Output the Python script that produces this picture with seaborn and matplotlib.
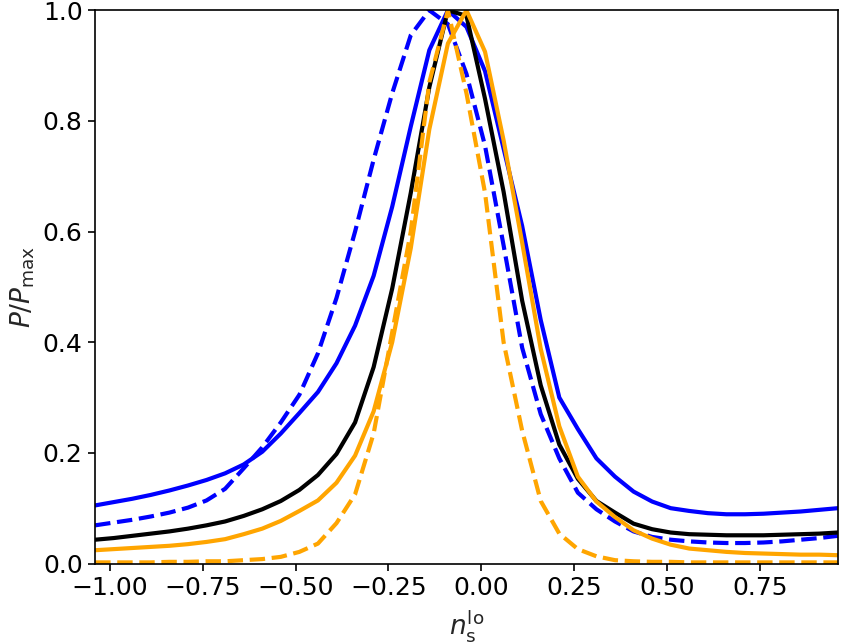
import numpy as np
import matplotlib
matplotlib.use("Agg")
import matplotlib.pyplot as plt
import seaborn as sns

# grid of n_s^lo values (step 0.05)
n_s = [-1.04, -0.99, -0.94, -0.89, -0.84, -0.79, -0.74, -0.69, -0.64, -0.59,
       -0.54, -0.49, -0.44, -0.39, -0.34, -0.29, -0.24, -0.19, -0.14, -0.09,
       -0.04, 0.01, 0.06, 0.11, 0.16, 0.21, 0.26, 0.31, 0.36, 0.41,
       0.46, 0.51, 0.56, 0.61, 0.66, 0.71, 0.76, 0.81, 0.86, 0.91, 0.96]

blue_solid = [0.105, 0.111, 0.117, 0.124, 0.132, 0.141, 0.151, 0.163, 0.179, 0.202,
              0.235, 0.272, 0.310, 0.362, 0.430, 0.520, 0.645, 0.790, 0.928, 1.000,
              0.970, 0.890, 0.750, 0.610, 0.440, 0.300, 0.243, 0.190, 0.157, 0.130,
              0.112, 0.100, 0.095, 0.091, 0.089, 0.089, 0.090, 0.092, 0.094, 0.097, 0.100]

blue_dashed = [0.069, 0.074, 0.079, 0.085, 0.092, 0.101, 0.114, 0.135, 0.172, 0.210,
               0.255, 0.305, 0.380, 0.480, 0.600, 0.730, 0.850, 0.955, 1.000, 0.975,
               0.885, 0.755, 0.575, 0.390, 0.270, 0.190, 0.128, 0.098, 0.076, 0.058,
               0.048, 0.043, 0.040, 0.038, 0.037, 0.037, 0.038, 0.040, 0.043, 0.046, 0.050]

black_solid = [0.043, 0.046, 0.050, 0.054, 0.058, 0.063, 0.069, 0.076, 0.086, 0.098,
               0.113, 0.133, 0.160, 0.198, 0.255, 0.355, 0.497, 0.670, 0.861, 1.000,
               0.990, 0.840, 0.672, 0.475, 0.322, 0.215, 0.153, 0.113, 0.092, 0.072,
               0.062, 0.056, 0.053, 0.052, 0.051, 0.051, 0.051, 0.052, 0.053, 0.054, 0.056]

orange_solid = [0.024, 0.026, 0.028, 0.030, 0.032, 0.035, 0.039, 0.044, 0.053, 0.063,
                0.077, 0.095, 0.114, 0.146, 0.195, 0.275, 0.400, 0.570, 0.785, 0.940,
                1.000, 0.925, 0.765, 0.580, 0.388, 0.248, 0.157, 0.112, 0.084, 0.060,
                0.045, 0.034, 0.027, 0.024, 0.021, 0.019, 0.018, 0.017, 0.016, 0.016, 0.015]

orange_dashed = [0.002, 0.002, 0.002, 0.002, 0.003, 0.003, 0.004, 0.004, 0.006, 0.008,
                 0.012, 0.021, 0.036, 0.073, 0.125, 0.235, 0.418, 0.600, 0.870, 1.000,
                 0.850, 0.670, 0.400, 0.240, 0.113, 0.054, 0.026, 0.013, 0.006, 0.004,
                 0.003, 0.003, 0.002, 0.002, 0.002, 0.002, 0.002, 0.002, 0.002, 0.002, 0.002]

sns.set_style("ticks")
plt.rcParams['font.family'] = ['DejaVu Sans']
plt.rcParams['mathtext.fontset'] = 'dejavusans'

fig = plt.figure(figsize=(8.42, 6.44), dpi=100)
ax = fig.add_axes([0.113, 0.125, 0.882, 0.859])

lw = 3.0
sns.lineplot(x=n_s, y=blue_solid, color="blue", lw=lw, ax=ax)
sns.lineplot(x=n_s, y=blue_dashed, color="blue", lw=lw, linestyle="--", ax=ax)
sns.lineplot(x=n_s, y=black_solid, color="black", lw=lw, ax=ax)
sns.lineplot(x=n_s, y=orange_solid, color="orange", lw=lw, ax=ax)
sns.lineplot(x=n_s, y=orange_dashed, color="orange", lw=lw, linestyle="--", ax=ax)

ax.set_xlim(min(n_s), max(n_s))
ax.set_ylim(0, 1)
ax.set_xticks([-1.0, -0.75, -0.5, -0.25, 0.0, 0.25, 0.5, 0.75])
ax.set_yticks([0.0, 0.2, 0.4, 0.6, 0.8, 1.0])
ax.tick_params(labelsize=18, length=5, width=1.2, pad=4, colors="black")
for s in ax.spines.values():
    s.set_visible(True)
    s.set_color("black")
    s.set_linewidth(1.2)
ax.set_xlabel(r"$n_{\rm s}^{\rm lo}$", fontsize=19, labelpad=6)
ax.set_ylabel(r"$P/P_{\rm max}$", fontsize=19, labelpad=4)

fig.savefig("out.png", dpi=100)
